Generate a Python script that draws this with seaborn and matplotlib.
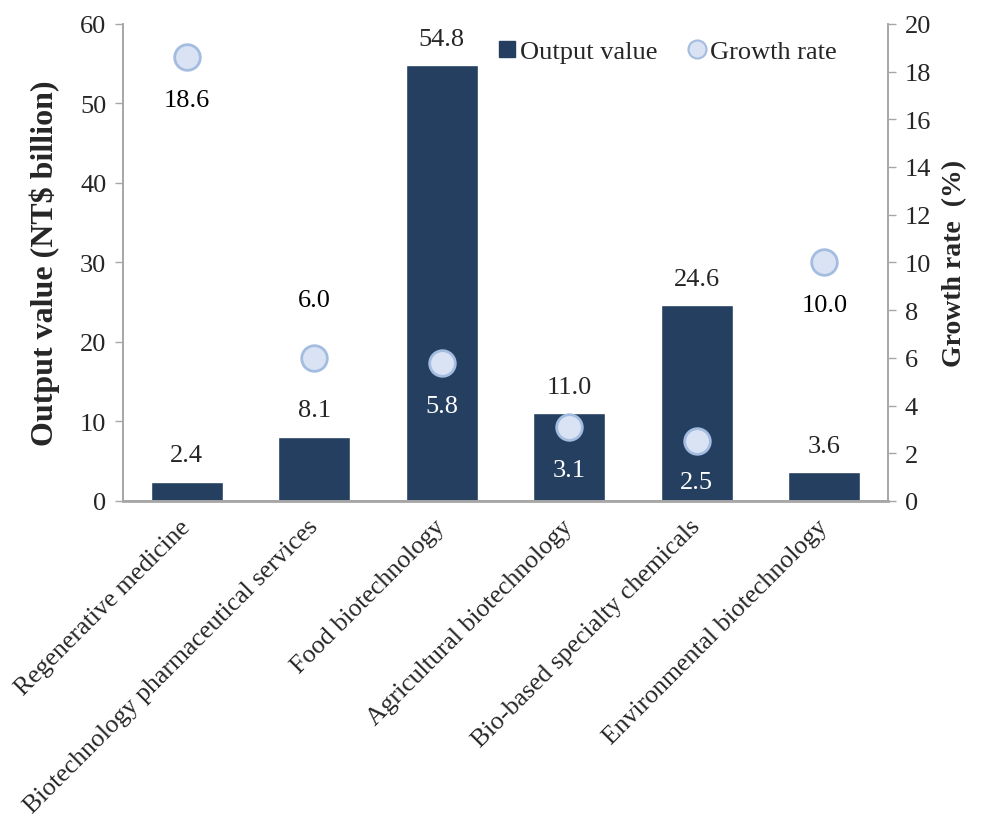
import pandas as pd
import matplotlib.pyplot as plt
import seaborn as sns
from matplotlib.lines import Line2D

# Datos
categorias = ['Regenerative medicine', 'Biotechnology pharmaceutical services',
              'Food biotechnology', 'Agricultural biotechnology',
              'Bio-based specialty chemicals', 'Environmental biotechnology']
valor_produccion = [2.4, 8.1, 54.8, 11.0, 24.6, 3.6]
tasa_crecimiento = [18.6, 6.0, 5.8, 3.1, 2.5, 10.0]
# etiqueta de crecimiento encima (True) o debajo (False) del marcador
etiqueta_arriba = [False, True, False, False, False, False]

df = pd.DataFrame({'Category': categorias, 'Output': valor_produccion, 'Growth': tasa_crecimiento})

sns.set_style('white')
plt.rcParams['font.family'] = ['Liberation Serif', 'DejaVu Serif']

color_barra = '#243f60'
color_marcador = '#dae3f3'
borde_marcador = '#a3bce0'
color_eje = '#a6a6a6'

fig = plt.figure(figsize=(9.87, 8.29), dpi=100)
ax = fig.add_axes([0.1246, 0.3945, 0.7751, 0.5755])

sns.barplot(x='Category', y='Output', data=df, color=color_barra, width=0.565,
            saturation=1, ax=ax)
ax.set_ylim(0, 60)
ax.set_yticks(range(0, 61, 10))
ax.set_xlim(-0.5, 5.5)

# etiquetas de valor sobre las barras
for i, v in enumerate(valor_produccion):
    ax.annotate(f'{v:.1f}', (i, v), xytext=(0, 19), textcoords='offset points',
                ha='center', va='center', fontsize=19)

ax2 = ax.twinx()
sns.scatterplot(x=list(range(6)), y='Growth', data=df, s=340, color=color_marcador,
                edgecolor=borde_marcador, linewidth=2, ax=ax2, zorder=5)
ax2.set_ylim(0, 20)
ax2.set_yticks(range(0, 21, 2))

# etiquetas de crecimiento (blancas si caen dentro de la barra)
base_px = ax2.transData.transform((0, 0))[1]
for i, (g, arriba, v) in enumerate(zip(tasa_crecimiento, etiqueta_arriba, valor_produccion)):
    g_px = ax2.transData.transform((0, g))[1] - base_px
    v_px = ax.transData.transform((0, v))[1] - base_px
    lab_px = g_px + (58 if arriba else -43)
    lab_px = max(lab_px, 19)  # no bajar del eje
    dentro = v_px > lab_px + 10
    ax2.annotate(f'{g:.1f}', (i, g), xytext=(0, (lab_px - g_px) * 0.72),
                 textcoords='offset points', ha='center', va='center', fontsize=19,
                 color='white' if dentro else 'black', zorder=6)

ax.set_xlabel('')
ax.set_ylabel('Output value (NT$ billion)', fontsize=23, fontweight='bold', labelpad=14)
ax2.set_ylabel('Growth rate  (%)', fontsize=20, fontweight='bold', labelpad=8)

ax.set_xticks(range(6))
ax.set_xticklabels(categorias, rotation=45, ha='right', va='center',
                   rotation_mode='anchor', fontsize=18.5)
ax.tick_params(axis='x', length=0, pad=16)
ax.tick_params(axis='y', labelsize=19, direction='out', length=6, width=1,
               color=color_eje, left=True, pad=6)
ax2.tick_params(axis='y', labelsize=19, direction='out', length=6, width=1,
                color=color_eje, right=True, pad=6)

for a in (ax, ax2):
    a.spines['top'].set_visible(False)
    for s in ('left', 'right', 'bottom'):
        a.spines[s].set_color(color_eje)
        a.spines[s].set_linewidth(1.2)
ax.spines['bottom'].set_linewidth(2)

handles = [Line2D([], [], marker='s', linestyle='', markersize=12, color=color_barra),
           Line2D([], [], marker='o', linestyle='', markersize=13, markerfacecolor=color_marcador,
                  markeredgecolor=borde_marcador, markeredgewidth=1.5)]
ax2.legend(handles, ['Output value', 'Growth rate'], loc='center left',
           bbox_to_anchor=(496 / 987, 1 - 52 / 829), bbox_transform=fig.transFigure,
           ncol=2, frameon=False, fontsize=19, handlelength=0.8, handletextpad=0.1,
           columnspacing=1.1, borderpad=0, borderaxespad=0)

plt.savefig('out.png', dpi=100)
